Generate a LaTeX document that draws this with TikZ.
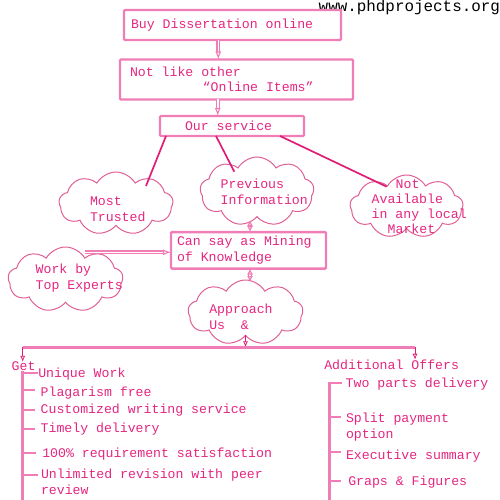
\documentclass[tikz,border=0pt]{standalone}
\usepackage{fontspec}
\newfontfamily\mono{Liberation Mono}
\usetikzlibrary{shapes.symbols,arrows.meta,calc}
\definecolor{tx}{RGB}{228,38,128}
\definecolor{bx}{RGB}{240,125,182}
\definecolor{dk}{RGB}{222,30,118}
\definecolor{cl}{RGB}{224,95,150}
\begin{document}
\begin{tikzpicture}[x=1pt,y=-1pt,
  every node/.style={inner sep=0pt, outer sep=0pt},
  txt/.style={text=tx, font=\mono\fontsize{13.2}{16}\selectfont, align=flush left, anchor=west},
  box/.style={txt, draw=bx, line width=2.4pt, rounded corners=1pt, anchor=center},
  cloudbox/.style={cloud, cloud puffs=9, cloud puff arc=120, cloud ignores aspect, draw=cl, line width=1pt},
  arr/.style={draw=bx, double=white, double distance=1.6pt, line width=1.1pt, -{Latex[open,length=8pt,width=6pt]}},
  arrboth/.style={draw=bx, double=white, double distance=1.6pt, line width=1.1pt, {Latex[open,length=6pt,width=6pt]}-{Latex[open,length=6pt,width=6pt]}},
  thinarr/.style={draw=dk, line width=0.8pt, -{Latex[open,length=6pt,width=5pt]}},
  dkline/.style={draw=dk, line width=1.7pt},
  barline/.style={draw=bx, line width=2.6pt},
  tick/.style={draw=bx, line width=2.2pt}
]
\useasboundingbox (0,0) rectangle (500,500);

% url
\node[anchor=base east, font=\mono\fontsize{15.9}{18}\selectfont, text=black] (url) at (500,12) {www.phdprojects.org};

% boxes
\node[box, minimum width=217, minimum height=30, text width=203] (b1) at (232.5,25) {Buy Dissertation online};
\node[box, minimum width=233, minimum height=40, text width=213, font=\mono\fontsize{13.2}{15}\selectfont] (b2) at (236.5,79.5) {Not like other\\\hspace*{72.7pt}“Online Items”};
\node[box, minimum width=144, minimum height=20, text width=94] (b3) at (232,126) {Our service};
\node[box, minimum width=155, minimum height=36.5, text width=143] (b4) at (248.5,250.3) {Can say as Mining\\of Knowledge};

% clouds
\node[cloudbox, minimum width=114, minimum height=63] (cM) at (116,203.5) {};
\node[txt] (tM) at (90,209) {Most\\Trusted};
\node[cloudbox, minimum width=114, minimum height=69] (cP) at (257,191.5) {};
\node[txt] (tP) at (220.7,191.7) {Previous\\Information};
\node[cloudbox, minimum width=113, minimum height=63] (cN) at (406.5,206.5) {};
\node[txt, font=\mono\fontsize{13.2}{15.2}\selectfont] (tN) at (371.7,206.5) {\hspace*{24pt}Not\\Available\\in any local\\\hspace*{16pt}Market};
\node[cloudbox, minimum width=115, minimum height=65] (cW) at (65.5,279.5) {};
\node[txt] (tW) at (35.7,278.3) {Work by\\Top Experts};
\node[cloudbox, minimum width=115, minimum height=65] (cA) at (245.5,312.5) {};
\node[txt] (tA) at (209.3,316.5) {Approach\\Us\ \ \&};

% connectors top
\draw[arr] ([xshift=-14.2pt]b1.south) -- ([xshift=-14.2pt]b1.south |- b2.north);
\draw[arr] ([xshift=-18.8pt]b2.south) -- ([xshift=-18.8pt]b2.south |- b3.north);
\draw[dkline] ([xshift=6pt]b3.south west) -- ($(cM.center)+(30,-17.5)$);
\draw[dkline] ([xshift=56pt]b3.south west) -- ($(cP.center)+(-22.7,-19.8)$);
\draw[dkline] ([xshift=120pt]b3.south west) -- ($(cN.center)+(-19.8,-19.8)$);

\coordinate (w1) at ($(cW.center)+(19.5,-27.2)$);
\draw[arr] (w1) -- (w1 -| b4.west);
\coordinate (p1) at ($(cP.center)+(-7,28.5)$);
\draw[arrboth] (p1) -- (p1 |- b4.north);
\coordinate (a1) at ($(cA.center)+(4.5,-30.5)$);
\draw[arrboth] (a1 |- b4.south) -- (a1);

% bar
\coordinate (bl) at (22.7,347.3);
\coordinate (br) at (415,347.3);
\node[txt, anchor=base west] (get) at (11.7,370.7) {Get};
\node[txt, anchor=base west] (add) at (324.3,369.3) {Additional Offers};
\draw[thinarr] (cA.south) -- (cA.south |- bl);
\draw[barline] (bl) -- (br);
\draw[thinarr] (bl) -- (bl |- get.north);
\draw[thinarr] (br) -- (br |- add.north);

% left list
\coordinate (lb) at (22.7,500);
\draw[barline] (bl |- get.south) -- (lb);
\node[txt, anchor=base west] (i1) at (38.3,377.7) {Unique Work};
\node[txt, anchor=base west] (i2) at (40.7,396.7) {Plagarism free};
\node[txt, anchor=base west] (i3) at (40.7,413.3) {Customized writing service};
\node[txt, anchor=base west] (i4) at (40.7,432.7) {Timely delivery};
\node[txt, anchor=base west] (i5) at (42.3,457.3) {100\% requirement satisfaction};
\node[txt, anchor=base west] (i6) at (41,494) {Unlimited revision with peer\\review};
\draw[tick] (bl |- 0,372.7) -- (38,372.7);
\draw[tick] (bl |- 0,390.3) -- (35,390.3);
\draw[tick] (bl |- 0,410.3) -- (34.5,410.3);
\draw[tick] (bl |- 0,429.3) -- (34.5,429.3);
\draw[tick] (bl |- 0,453.3) -- (35.5,453.3);
\draw[tick] (bl |- 0,474.7) -- (38,474.7);

% right list
\coordinate (rt) at (329.3,382.3);
\coordinate (rb) at (329.3,500);
\draw[barline] (rt) -- (rb);
\node[txt, anchor=base west] (j1) at (345.7,387.7) {Two parts delivery};
\node[txt, anchor=base west] (j2) at (346,438.7) {Split payment\\option};
\node[txt, anchor=base west] (j3) at (346,459.3) {Executive summary};
\node[txt, anchor=base west] (j4) at (348.3,485) {Graps \& Figures};
\draw[tick] (rt |- 0,382.7) -- (342,382.7);
\draw[tick] (rt |- 0,417.3) -- (341,417.3);
\draw[tick] (rt |- 0,452) -- (341,452);
\draw[tick] (rt |- 0,480.7) -- (340.5,480.7);
\end{tikzpicture}
\end{document}
